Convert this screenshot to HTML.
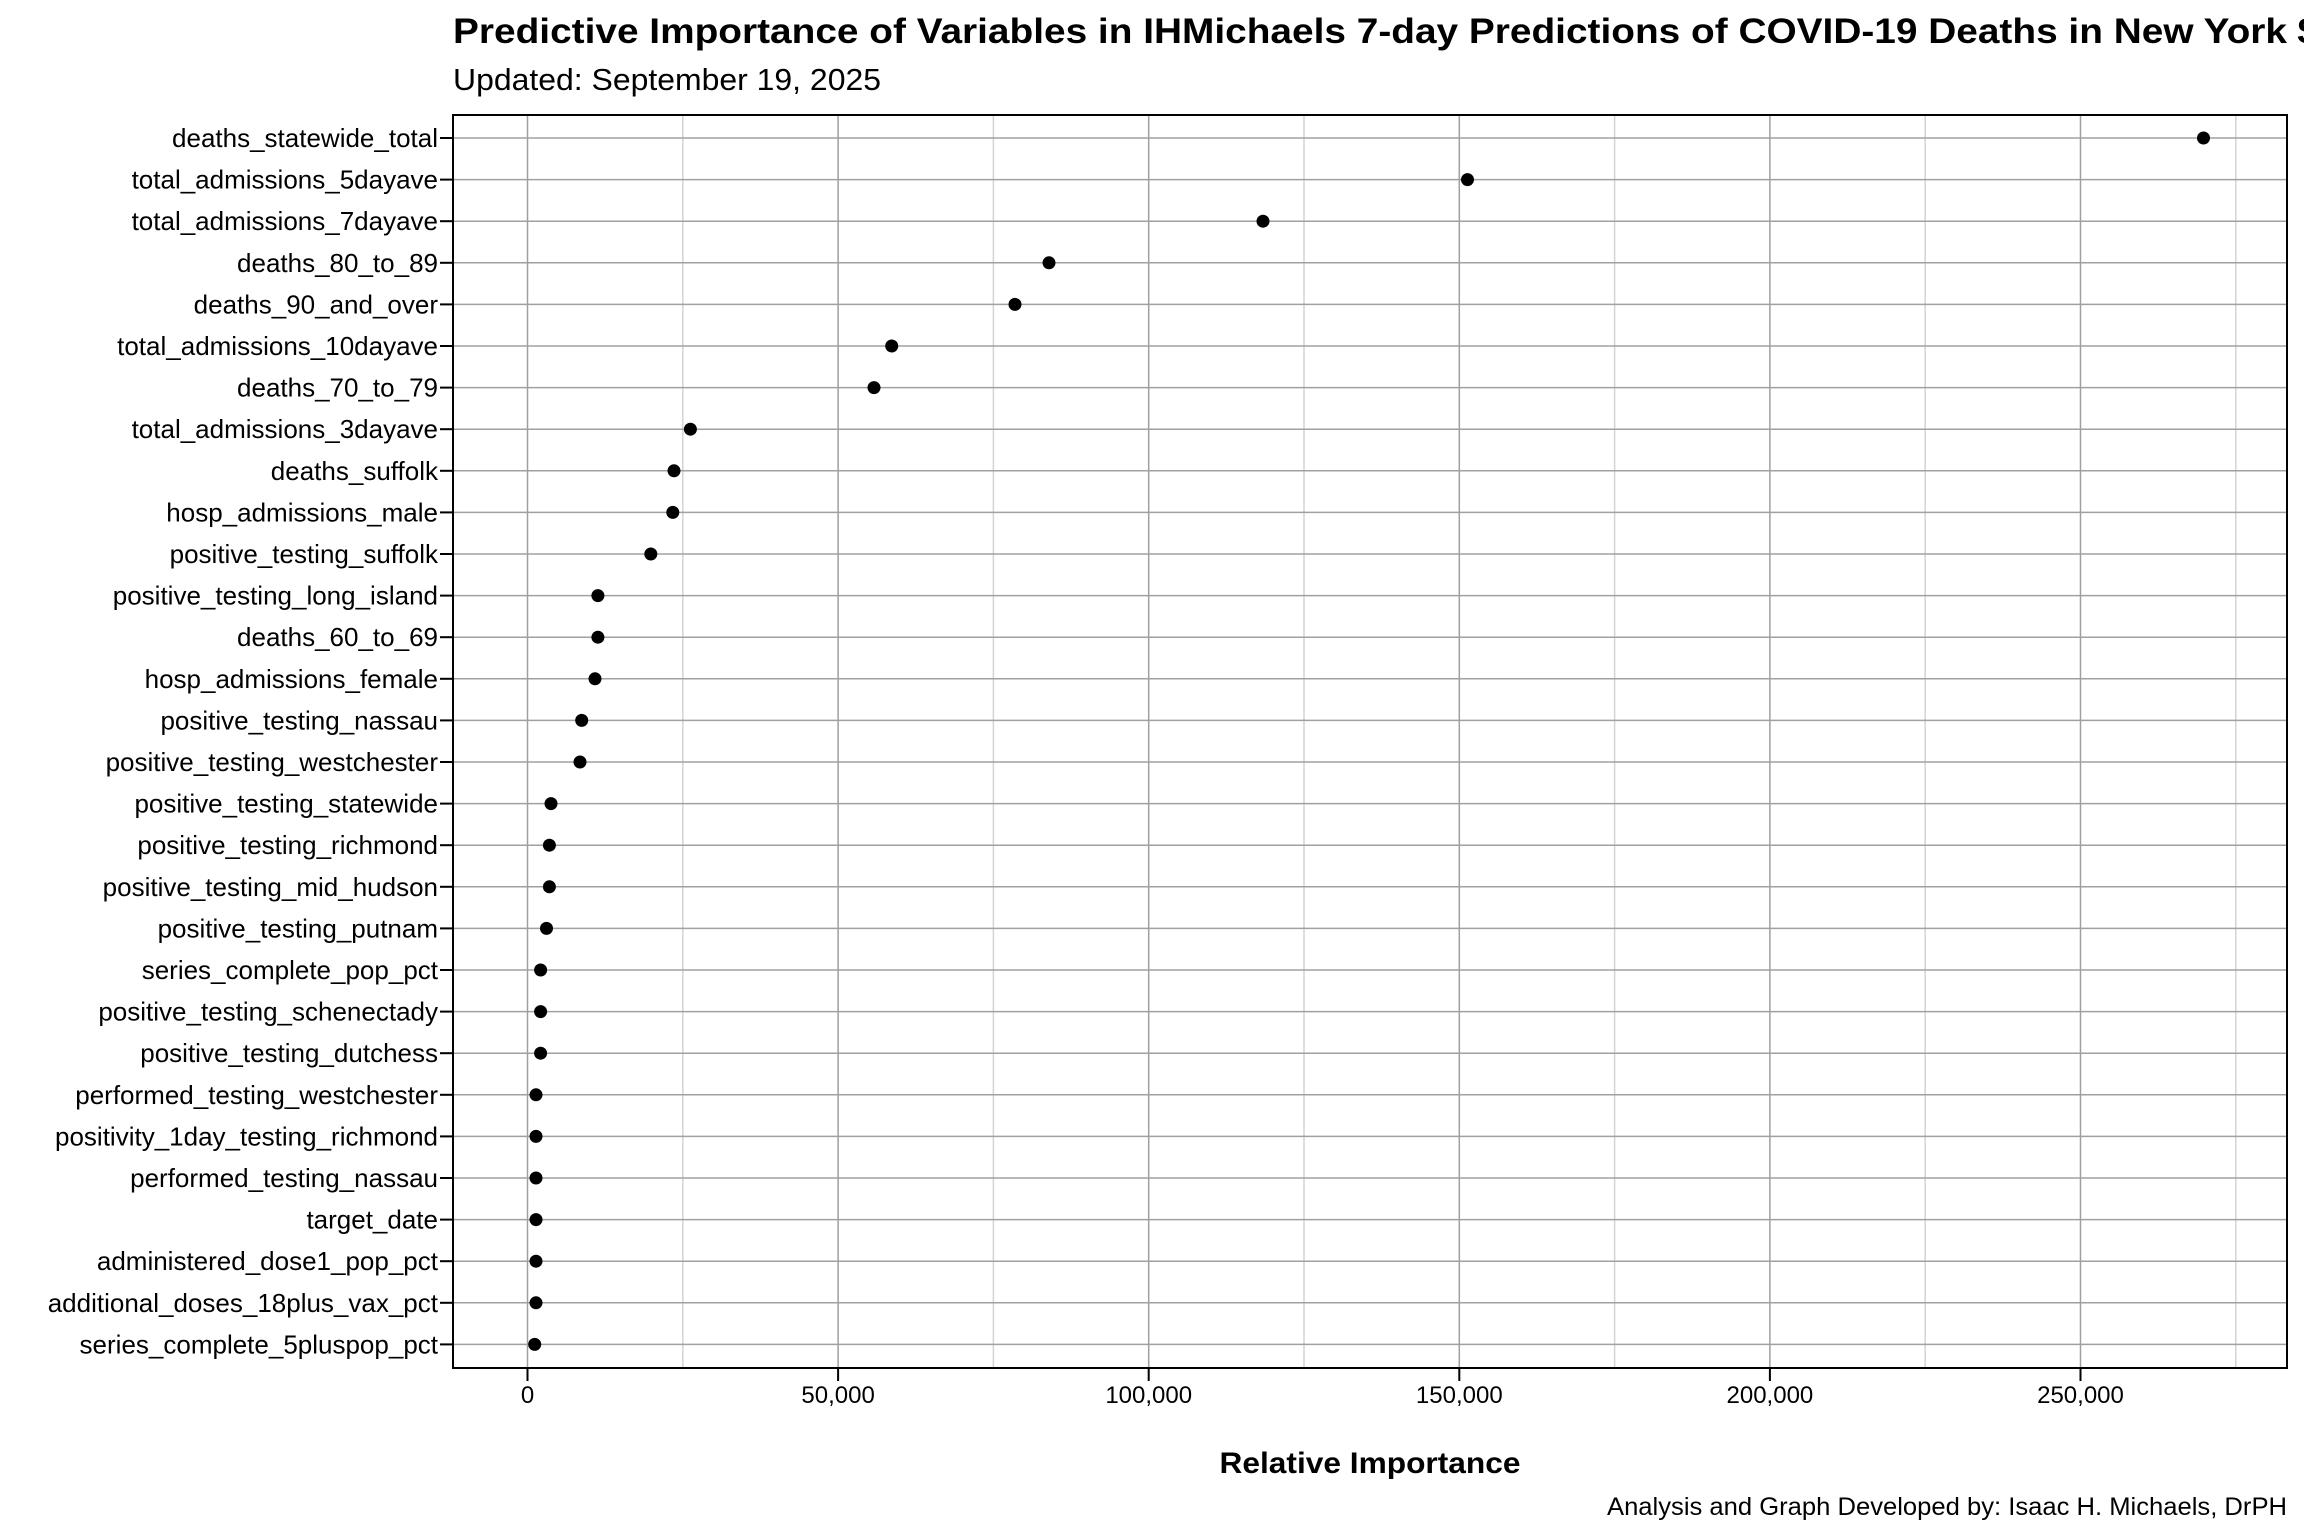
<!DOCTYPE html>
<html><head><meta charset="utf-8"><style>
html,body{margin:0;padding:0;background:#fff;}
svg{display:block;font-family:"Liberation Sans",sans-serif;}
</style></head><body>
<svg width="2304" height="1536" viewBox="0 0 2304 1536" xmlns="http://www.w3.org/2000/svg">
<rect width="2304" height="1536" fill="#fff"/>
<text x="453" y="43" font-size="35" font-weight="bold"><tspan textLength="1834" lengthAdjust="spacingAndGlyphs">Predictive Importance of Variables in IHMichaels 7-day Predictions of COVID-19 Deaths in New York</tspan><tspan> State</tspan></text>
<text x="453" y="90" font-size="31" textLength="428" lengthAdjust="spacingAndGlyphs">Updated: September 19, 2025</text>
<g stroke="#d3d3d3" stroke-width="1.5">
<line x1="682.8" y1="115" x2="682.8" y2="1368"/><line x1="993.4" y1="115" x2="993.4" y2="1368"/><line x1="1304" y1="115" x2="1304" y2="1368"/><line x1="1614.6" y1="115" x2="1614.6" y2="1368"/><line x1="1925.2" y1="115" x2="1925.2" y2="1368"/><line x1="2235.8" y1="115" x2="2235.8" y2="1368"/>
</g>
<g stroke="#a0a0a0" stroke-width="1.5">
<line x1="527.5" y1="115" x2="527.5" y2="1368"/><line x1="838.1" y1="115" x2="838.1" y2="1368"/><line x1="1148.7" y1="115" x2="1148.7" y2="1368"/><line x1="1459.3" y1="115" x2="1459.3" y2="1368"/><line x1="1769.9" y1="115" x2="1769.9" y2="1368"/><line x1="2080.5" y1="115" x2="2080.5" y2="1368"/>
<line x1="453" x2="2287" y1="138" y2="138"/><line x1="453" x2="2287" y1="179.6" y2="179.6"/><line x1="453" x2="2287" y1="221.2" y2="221.2"/><line x1="453" x2="2287" y1="262.8" y2="262.8"/><line x1="453" x2="2287" y1="304.4" y2="304.4"/><line x1="453" x2="2287" y1="346" y2="346"/><line x1="453" x2="2287" y1="387.6" y2="387.6"/><line x1="453" x2="2287" y1="429.2" y2="429.2"/><line x1="453" x2="2287" y1="470.8" y2="470.8"/><line x1="453" x2="2287" y1="512.4" y2="512.4"/><line x1="453" x2="2287" y1="554" y2="554"/><line x1="453" x2="2287" y1="595.6" y2="595.6"/><line x1="453" x2="2287" y1="637.2" y2="637.2"/><line x1="453" x2="2287" y1="678.8" y2="678.8"/><line x1="453" x2="2287" y1="720.4" y2="720.4"/><line x1="453" x2="2287" y1="762" y2="762"/><line x1="453" x2="2287" y1="803.6" y2="803.6"/><line x1="453" x2="2287" y1="845.2" y2="845.2"/><line x1="453" x2="2287" y1="886.8" y2="886.8"/><line x1="453" x2="2287" y1="928.4" y2="928.4"/><line x1="453" x2="2287" y1="970" y2="970"/><line x1="453" x2="2287" y1="1011.6" y2="1011.6"/><line x1="453" x2="2287" y1="1053.2" y2="1053.2"/><line x1="453" x2="2287" y1="1094.8" y2="1094.8"/><line x1="453" x2="2287" y1="1136.4" y2="1136.4"/><line x1="453" x2="2287" y1="1178" y2="1178"/><line x1="453" x2="2287" y1="1219.6" y2="1219.6"/><line x1="453" x2="2287" y1="1261.2" y2="1261.2"/><line x1="453" x2="2287" y1="1302.8" y2="1302.8"/><line x1="453" x2="2287" y1="1344.4" y2="1344.4"/>
</g>
<rect x="453" y="115" width="1834" height="1253" fill="none" stroke="#000" stroke-width="2"/>
<g stroke="#000" stroke-width="2">
<line x1="440" x2="453" y1="138" y2="138"/><line x1="440" x2="453" y1="179.6" y2="179.6"/><line x1="440" x2="453" y1="221.2" y2="221.2"/><line x1="440" x2="453" y1="262.8" y2="262.8"/><line x1="440" x2="453" y1="304.4" y2="304.4"/><line x1="440" x2="453" y1="346" y2="346"/><line x1="440" x2="453" y1="387.6" y2="387.6"/><line x1="440" x2="453" y1="429.2" y2="429.2"/><line x1="440" x2="453" y1="470.8" y2="470.8"/><line x1="440" x2="453" y1="512.4" y2="512.4"/><line x1="440" x2="453" y1="554" y2="554"/><line x1="440" x2="453" y1="595.6" y2="595.6"/><line x1="440" x2="453" y1="637.2" y2="637.2"/><line x1="440" x2="453" y1="678.8" y2="678.8"/><line x1="440" x2="453" y1="720.4" y2="720.4"/><line x1="440" x2="453" y1="762" y2="762"/><line x1="440" x2="453" y1="803.6" y2="803.6"/><line x1="440" x2="453" y1="845.2" y2="845.2"/><line x1="440" x2="453" y1="886.8" y2="886.8"/><line x1="440" x2="453" y1="928.4" y2="928.4"/><line x1="440" x2="453" y1="970" y2="970"/><line x1="440" x2="453" y1="1011.6" y2="1011.6"/><line x1="440" x2="453" y1="1053.2" y2="1053.2"/><line x1="440" x2="453" y1="1094.8" y2="1094.8"/><line x1="440" x2="453" y1="1136.4" y2="1136.4"/><line x1="440" x2="453" y1="1178" y2="1178"/><line x1="440" x2="453" y1="1219.6" y2="1219.6"/><line x1="440" x2="453" y1="1261.2" y2="1261.2"/><line x1="440" x2="453" y1="1302.8" y2="1302.8"/><line x1="440" x2="453" y1="1344.4" y2="1344.4"/>
<line x1="527.5" x2="527.5" y1="1368" y2="1381"/><line x1="838.1" x2="838.1" y1="1368" y2="1381"/><line x1="1148.7" x2="1148.7" y1="1368" y2="1381"/><line x1="1459.3" x2="1459.3" y1="1368" y2="1381"/><line x1="1769.9" x2="1769.9" y1="1368" y2="1381"/><line x1="2080.5" x2="2080.5" y1="1368" y2="1381"/>
</g>
<g font-size="26" text-anchor="end">
<text x="438" y="147">deaths_statewide_total</text>
<text x="438" y="188.6">total_admissions_5dayave</text>
<text x="438" y="230.2">total_admissions_7dayave</text>
<text x="438" y="271.8">deaths_80_to_89</text>
<text x="438" y="313.4">deaths_90_and_over</text>
<text x="438" y="355">total_admissions_10dayave</text>
<text x="438" y="396.6">deaths_70_to_79</text>
<text x="438" y="438.2">total_admissions_3dayave</text>
<text x="438" y="479.8">deaths_suffolk</text>
<text x="438" y="521.4">hosp_admissions_male</text>
<text x="438" y="563">positive_testing_suffolk</text>
<text x="438" y="604.6">positive_testing_long_island</text>
<text x="438" y="646.2">deaths_60_to_69</text>
<text x="438" y="687.8">hosp_admissions_female</text>
<text x="438" y="729.4">positive_testing_nassau</text>
<text x="438" y="771">positive_testing_westchester</text>
<text x="438" y="812.6">positive_testing_statewide</text>
<text x="438" y="854.2">positive_testing_richmond</text>
<text x="438" y="895.8">positive_testing_mid_hudson</text>
<text x="438" y="937.4">positive_testing_putnam</text>
<text x="438" y="979">series_complete_pop_pct</text>
<text x="438" y="1020.6">positive_testing_schenectady</text>
<text x="438" y="1062.2">positive_testing_dutchess</text>
<text x="438" y="1103.8">performed_testing_westchester</text>
<text x="438" y="1145.4">positivity_1day_testing_richmond</text>
<text x="438" y="1187">performed_testing_nassau</text>
<text x="438" y="1228.6">target_date</text>
<text x="438" y="1270.2">administered_dose1_pop_pct</text>
<text x="438" y="1311.8">additional_doses_18plus_vax_pct</text>
<text x="438" y="1353.4">series_complete_5pluspop_pct</text>
</g>
<g font-size="24" text-anchor="middle">
<text x="527.5" y="1403">0</text><text x="838.1" y="1403">50,000</text><text x="1148.7" y="1403">100,000</text><text x="1459.3" y="1403">150,000</text><text x="1769.9" y="1403">200,000</text><text x="2080.5" y="1403">250,000</text>
</g>
<g fill="#000">
<circle cx="2203.5" cy="138" r="6.5"/><circle cx="1467.5" cy="179.6" r="6.5"/><circle cx="1263" cy="221.2" r="6.5"/><circle cx="1049" cy="262.8" r="6.5"/><circle cx="1015" cy="304.4" r="6.5"/><circle cx="891.7" cy="346" r="6.5"/><circle cx="874" cy="387.6" r="6.5"/><circle cx="690.4" cy="429.2" r="6.5"/><circle cx="674" cy="470.8" r="6.5"/><circle cx="672.8" cy="512.4" r="6.5"/><circle cx="650.8" cy="554" r="6.5"/><circle cx="597.9" cy="595.6" r="6.5"/><circle cx="597.9" cy="637.2" r="6.5"/><circle cx="595" cy="678.8" r="6.5"/><circle cx="581.7" cy="720.4" r="6.5"/><circle cx="580" cy="762" r="6.5"/><circle cx="551" cy="803.6" r="6.5"/><circle cx="549.4" cy="845.2" r="6.5"/><circle cx="549.4" cy="886.8" r="6.5"/><circle cx="546.5" cy="928.4" r="6.5"/><circle cx="540.6" cy="970" r="6.5"/><circle cx="540.6" cy="1011.6" r="6.5"/><circle cx="540.6" cy="1053.2" r="6.5"/><circle cx="536" cy="1094.8" r="6.5"/><circle cx="536" cy="1136.4" r="6.5"/><circle cx="536" cy="1178" r="6.5"/><circle cx="536" cy="1219.6" r="6.5"/><circle cx="536" cy="1261.2" r="6.5"/><circle cx="536" cy="1302.8" r="6.5"/><circle cx="534.7" cy="1344.4" r="6.5"/>
</g>
<text x="1370" y="1473" font-size="30" font-weight="bold" text-anchor="middle" textLength="301" lengthAdjust="spacingAndGlyphs">Relative Importance</text>
<text x="2287" y="1515" font-size="25" text-anchor="end" textLength="680" lengthAdjust="spacingAndGlyphs">Analysis and Graph Developed by: Isaac H. Michaels, DrPH</text>
</svg>
</body></html>
